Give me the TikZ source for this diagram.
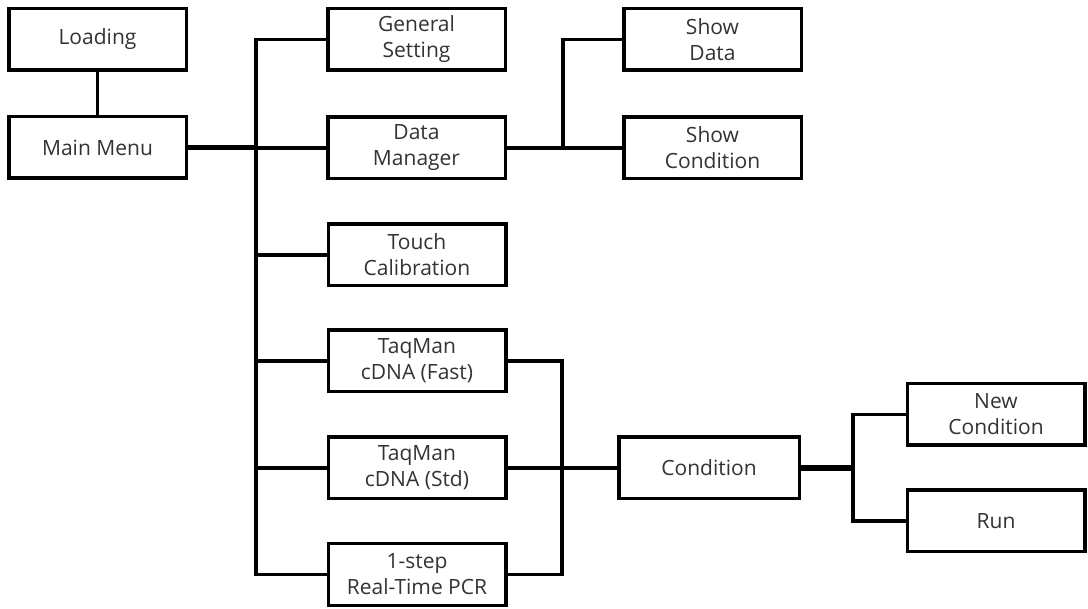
\documentclass[tikz,border=0pt]{standalone}
\usepackage{fontspec}
\setmainfont{Open Sans}
\definecolor{txt}{HTML}{333333}
\begin{document}
\begin{tikzpicture}[x=1pt,y=-1pt,
  box/.style={draw=black, line width=3.5pt, fill=white, minimum width=177.5pt, minimum height=61.5pt,
    inner sep=0pt, align=center, text=txt, font=\fontsize{21}{26}\selectfont},
  conn/.style={draw=black, line width=3.8pt, line cap=rect},
  thickconn/.style={draw=black, line width=5pt, line cap=butt}]
\useasboundingbox (0,0) rectangle (1088,609);
% nodes
\node[box] (ld) at (97.5,39.5) {Loading};
\node[box] (mm) at (97.5,147.5) {Main Menu};
\node[box] (gs) at (416.5,39.5) {General\\Setting};
\node[box] (dm) at (416.5,148) {Data\\Manager};
\node[box] (tc) at (417,255) {Touch\\Calibration};
\node[box] (tf) at (417,361) {TaqMan\\cDNA (Fast)};
\node[box] (ts) at (417,468) {TaqMan\\cDNA (Std)};
\node[box] (rt) at (417,574.5) {1-step\\Real-Time PCR};
\node[box] (sd) at (712.5,39.5) {Show\\Data};
\node[box] (sc) at (712.5,148) {Show\\Condition};
\node[box, minimum width=180.5pt] (cd) at (709,468) {Condition};
\node[box] (nc) at (996,414.5) {New\\Condition};
\node[box] (rn) at (996,521) {Run};
% junction coordinates
\coordinate (t1) at (256,0);
\coordinate (t2) at (563,0);
\coordinate (t3) at (562,0);
\coordinate (t4) at (853,0);
% connectors
\draw[conn] (ld.south) -- (mm.north);
\draw[thickconn] (mm.east) -- (mm.east -| t1);
\draw[conn] (gs.west -| t1) -- (rt.west -| t1);
\draw[conn] (gs.west -| t1) -- (gs.west);
\draw[conn] (dm.west -| t1) -- (dm.west);
\draw[conn] (tc.west -| t1) -- (tc.west);
\draw[conn] (tf.west -| t1) -- (tf.west);
\draw[conn] (ts.west -| t1) -- (ts.west);
\draw[conn] (rt.west -| t1) -- (rt.west);
\draw[conn] (dm.east) -- (dm.east -| t2);
\draw[conn] (sd.west -| t2) -- (dm.east -| t2);
\draw[conn] (sd.west -| t2) -- (sd.west);
\draw[conn] (sc.west -| t2) -- (sc.west);
\draw[conn] (tf.east) -- (tf.east -| t3) -- (rt.east -| t3) -- (rt.east);
\draw[conn] (ts.east) -- (cd.west);
\draw[thickconn, line width=5.5pt] (cd.east) -- (cd.east -| t4);
\draw[conn] (nc.west -| t4) -- (rn.west -| t4);
\draw[conn] (nc.west -| t4) -- (nc.west);
\draw[conn] (rn.west -| t4) -- (rn.west);
\end{tikzpicture}
\end{document}
